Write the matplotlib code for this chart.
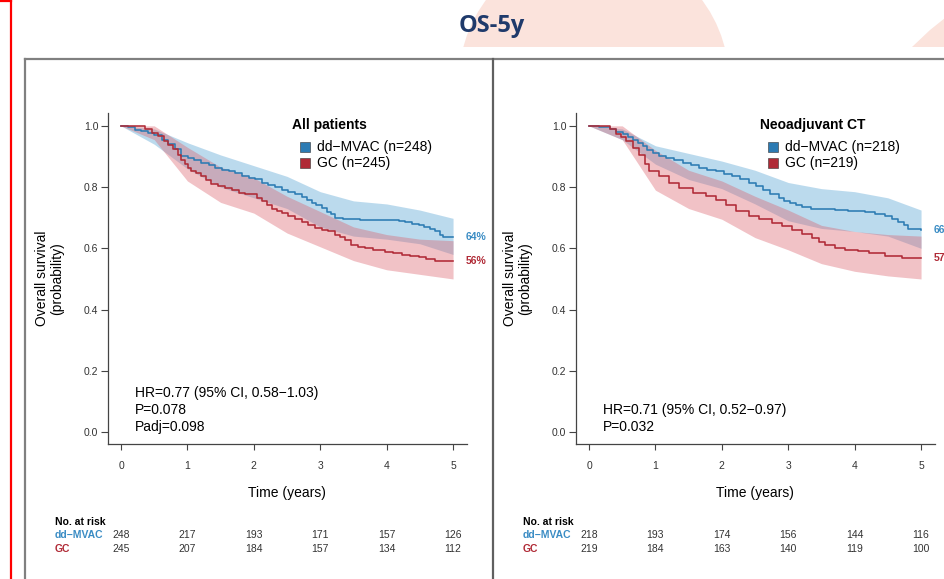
import matplotlib
matplotlib.use("Agg")
import matplotlib.pyplot as plt
from matplotlib.patches import Circle, Polygon, Rectangle

W, H = 945, 579

YEARS = [0, 1, 2, 3, 4, 5]
SURV_TICKS = [0.0, 0.2, 0.4, 0.6, 0.8, 1.0]
ARMS = ["dd\u2212MVAC", "GC"]

# ---- All patients ----
ALL_MVAC_T = [0, 0.1, 0.21, 0.3, 0.41, 0.5, 0.61, 0.7, 0.81, 0.91, 1.01, 1.1, 1.21, 1.32, 1.42, 1.52, 1.62,
              1.72, 1.82, 1.92, 2.02, 2.12, 2.22, 2.32, 2.42, 2.52, 2.62, 2.72, 2.8, 2.87, 2.94, 3.02, 3.1,
              3.16, 3.22, 3.35, 3.47, 3.6, 3.72, 3.85, 4.0, 4.18, 4.28, 4.38, 4.48, 4.56, 4.65, 4.73, 4.8,
              4.85, 5.0]
ALL_MVAC_S = [1.0, 0.995, 0.988, 0.983, 0.977, 0.97, 0.955, 0.94, 0.923, 0.90, 0.895, 0.888, 0.879, 0.871,
              0.863, 0.857, 0.852, 0.845, 0.836, 0.83, 0.825, 0.815, 0.808, 0.80, 0.792, 0.785, 0.776,
              0.768, 0.758, 0.748, 0.74, 0.733, 0.72, 0.712, 0.70, 0.697, 0.695, 0.694, 0.693, 0.692,
              0.691, 0.69, 0.686, 0.681, 0.676, 0.669, 0.662, 0.655, 0.645, 0.638, 0.638]
ALL_GC_T = [0, 0.36, 0.46, 0.56, 0.64, 0.71, 0.78, 0.86, 0.91, 0.96, 1.01, 1.06, 1.13, 1.21, 1.28, 1.36,
            1.46, 1.57, 1.67, 1.77, 1.87, 1.97, 2.05, 2.12, 2.2, 2.27, 2.35, 2.42, 2.52, 2.62, 2.72, 2.82,
            2.92, 3.02, 3.12, 3.22, 3.3, 3.38, 3.47, 3.57, 3.67, 3.8, 3.98, 4.1, 4.23, 4.35, 4.48, 4.6,
            4.73, 5.0]
ALL_GC_S = [1.0, 0.99, 0.978, 0.966, 0.952, 0.939, 0.924, 0.906, 0.89, 0.874, 0.862, 0.852, 0.845, 0.836,
            0.822, 0.809, 0.803, 0.797, 0.789, 0.781, 0.779, 0.776, 0.765, 0.754, 0.74, 0.727, 0.722,
            0.716, 0.706, 0.697, 0.687, 0.676, 0.668, 0.66, 0.655, 0.645, 0.638, 0.626, 0.611, 0.605,
            0.60, 0.595, 0.589, 0.584, 0.578, 0.574, 0.571, 0.566, 0.56, 0.56]

BAND_T = [0, 0.5, 1.0, 1.5, 2.0, 2.5, 3.0, 3.5, 4.0, 4.5, 5.0]
ALL_MVAC_LO = [1.0, 0.94, 0.86, 0.80, 0.765, 0.73, 0.67, 0.64, 0.63, 0.615, 0.58]
ALL_MVAC_HI = [1.0, 0.99, 0.945, 0.905, 0.87, 0.835, 0.785, 0.755, 0.745, 0.725, 0.698]
ALL_GC_LO = [1.0, 0.955, 0.82, 0.75, 0.715, 0.65, 0.605, 0.56, 0.53, 0.515, 0.50]
ALL_GC_HI = [1.0, 1.0, 0.93, 0.865, 0.83, 0.77, 0.72, 0.67, 0.645, 0.63, 0.625]

ALL_N = [248, 245]
ALL_RISK_MVAC = [248, 217, 193, 171, 157, 126]
ALL_RISK_GC = [245, 207, 184, 157, 134, 112]
ALL_END = ["64%", "56%"]
ALL_STATS = ["HR=0.77 (95% CI, 0.58\u22121.03)", "P=0.078", "Padj=0.098"]

# ---- Neoadjuvant CT ----
NEO_MVAC_T = [0, 0.15, 0.31, 0.41, 0.51, 0.58, 0.66, 0.74, 0.81, 0.88, 0.96, 1.06, 1.16, 1.28, 1.41, 1.53,
              1.66, 1.78, 1.91, 2.03, 2.16, 2.28, 2.41, 2.52, 2.62, 2.72, 2.86, 2.94, 3.02, 3.12, 3.21,
              3.35, 3.52, 3.71, 3.9, 4.16, 4.3, 4.46, 4.56, 4.66, 4.74, 4.81, 5.0]
NEO_MVAC_S = [1.0, 0.995, 0.989, 0.98, 0.972, 0.963, 0.955, 0.945, 0.934, 0.922, 0.912, 0.903, 0.895,
              0.887, 0.879, 0.871, 0.863, 0.857, 0.852, 0.844, 0.836, 0.825, 0.814, 0.805, 0.79, 0.778,
              0.764, 0.755, 0.747, 0.742, 0.736, 0.73, 0.727, 0.725, 0.723, 0.72, 0.712, 0.704, 0.697,
              0.687, 0.675, 0.662, 0.66]
NEO_GC_T = [0, 0.24, 0.32, 0.41, 0.48, 0.56, 0.66, 0.76, 0.84, 0.91, 1.06, 1.21, 1.36, 1.56, 1.76, 1.91,
            2.06, 2.21, 2.41, 2.56, 2.76, 2.9, 3.06, 3.2, 3.36, 3.46, 3.56, 3.7, 3.86, 4.05, 4.21, 4.46,
            4.71, 5.0]
NEO_GC_S = [1.0, 1.0, 0.99, 0.972, 0.962, 0.95, 0.928, 0.906, 0.874, 0.852, 0.836, 0.814, 0.797, 0.781,
            0.77, 0.759, 0.743, 0.721, 0.705, 0.695, 0.682, 0.672, 0.66, 0.648, 0.633, 0.622, 0.611,
            0.601, 0.595, 0.59, 0.584, 0.575, 0.567, 0.567]

NEO_MVAC_LO = [1.0, 0.955, 0.875, 0.825, 0.795, 0.745, 0.69, 0.665, 0.655, 0.64, 0.60]
NEO_MVAC_HI = [1.0, 0.99, 0.935, 0.91, 0.885, 0.855, 0.815, 0.795, 0.785, 0.765, 0.725]
NEO_GC_LO = [1.0, 0.955, 0.79, 0.73, 0.695, 0.635, 0.595, 0.55, 0.525, 0.51, 0.50]
NEO_GC_HI = [1.0, 1.0, 0.92, 0.855, 0.82, 0.77, 0.725, 0.675, 0.655, 0.645, 0.64]

NEO_N = [218, 219]
NEO_RISK_MVAC = [218, 193, 174, 156, 144, 116]
NEO_RISK_GC = [219, 184, 163, 140, 119, 100]
NEO_END = ["66%", "57%"]
NEO_STATS = ["HR=0.71 (95% CI, 0.52\u22120.97)", "P=0.032"]

BLUE_LINE = "#2c7bb3"
RED_LINE = "#b02a36"
BLUE_FILL = "#5fa8d6"
RED_FILL = "#db5f6b"
BLUE_TXT = "#3a8cc4"
RED_TXT = "#b02a36"
AXIS_C = "#444444"

plt.rcParams["font.family"] = ["Liberation Sans", "DejaVu Sans"]


def px_box(left, top, right, bottom):
    return [left / W, 1 - bottom / H, (right - left) / W, (bottom - top) / H]


def draw_panel(ax, title, curves, bands, n, risk, ends, stats):
    ax.set_xlim(-0.196, 5.21)
    ax.set_ylim(-0.039, 1.042)
    for sp in ("top", "right"):
        ax.spines[sp].set_visible(False)
    for sp in ("left", "bottom"):
        ax.spines[sp].set_color(AXIS_C)
        ax.spines[sp].set_linewidth(0.9)
    ax.set_xticks(YEARS)
    ax.set_xticklabels([str(y) for y in YEARS])
    ax.set_yticks(SURV_TICKS)
    ax.set_yticklabels([f"{v:.1f}" for v in SURV_TICKS])
    ax.tick_params(axis="y", length=5, width=0.8, color=AXIS_C, pad=2, labelsize=7.5, labelcolor="#333333")
    ax.tick_params(axis="x", length=4.5, width=0.8, color=AXIS_C, pad=7.5, labelsize=7.5, labelcolor="#333333")

    (mv_lo, mv_hi), (gc_lo, gc_hi) = bands
    ax.fill_between(BAND_T, mv_lo, mv_hi, color=BLUE_FILL, alpha=0.42, lw=0)
    ax.fill_between(BAND_T, gc_lo, gc_hi, color=RED_FILL, alpha=0.38, lw=0)
    (mv_t, mv_s), (gc_t, gc_s) = curves
    ax.step(mv_t, mv_s, where="post", color=BLUE_LINE, lw=1.15)
    ax.step(gc_t, gc_s, where="post", color=RED_LINE, lw=1.15)

    # end-of-follow-up percentages
    ax.text(5.19, mv_s[-1], ends[0], color=BLUE_TXT, fontsize=7.5, fontweight="bold", va="center", clip_on=False)
    ax.text(5.19, gc_s[-1], ends[1], color=RED_TXT, fontsize=7.5, fontweight="bold", va="center", clip_on=False)

    # legend
    ax.text(0.512, 0.964, title, transform=ax.transAxes, fontsize=10, fontweight="bold", va="center")
    for i, (arm, col) in enumerate(zip(ARMS, [BLUE_LINE, RED_LINE])):
        yy = 0.897 - i * 0.048
        ax.plot([0.549], [yy], marker="s", ms=7, mfc=col, mec="#333333", mew=0.4,
                transform=ax.transAxes, clip_on=False)
        ax.text(0.582, yy, f"{arm} (n={n[i]})", transform=ax.transAxes, fontsize=10, va="center")

    ax.text(0.21, -0.006, "\n".join(stats), fontsize=10, va="bottom", ha="left", linespacing=1.25)

    # axis labels
    ax.text(2.5, -0.148, "Time (years)", transform=ax.get_xaxis_transform(), fontsize=10,
            ha="center", va="center")
    ax.text(-0.162, 0.5, "Overall survival\n(probability)", transform=ax.transAxes, fontsize=10,
            rotation=90, ha="center", va="center", linespacing=1.1)

    # number at risk table
    tr = ax.get_xaxis_transform()
    ax.text(-0.994, -0.236, "No. at risk", transform=tr, fontsize=7.5, fontweight="bold", va="center",
            clip_on=False)
    for row, (arm, col, vals) in enumerate(zip(ARMS, [BLUE_TXT, RED_TXT], risk)):
        yy = -0.275 - row * 0.042
        ax.text(-0.994, yy, arm, transform=tr, fontsize=7.5, fontweight="bold", color=col, va="center")
        for t, v in zip(YEARS, vals):
            ax.text(t, yy, str(v), transform=tr, fontsize=7.5, color="#333333", ha="center", va="center")


fig = plt.figure(figsize=(W / 100, H / 100), dpi=100)
fig.patch.set_facecolor("white")

# slide decorations in pixel coordinates
bg = fig.add_axes([0, 0, 1, 1], zorder=0)
bg.set_xlim(0, W)
bg.set_ylim(H, 0)
bg.axis("off")
clip = Rectangle((0, 0), W, 47, transform=bg.transData)
for patch in (Circle((594, 81), 135), Polygon([(912, 47), (945, 47), (945, 18), (930, 30)])):
    patch.set_facecolor("#fbe3dc")
    patch.set_edgecolor("none")
    bg.add_patch(patch)
    patch.set_clip_path(clip)
bg.plot([11, 11], [0, H], color="#ff0000", lw=1.6)
bg.plot([0, 11], [1, 1], color="#ff0000", lw=1.6)
bg.plot([25, W], [58.5, 58.5], color="#808080", lw=1.6)
bg.plot([25, 25], [58.5, H], color="#808080", lw=1.6)
bg.plot([493, 493], [58.5, H], color="#606060", lw=1.6)
bg.text(492, 26, "OS-5y", fontsize=17, fontweight="bold", color="#1f3a6b", ha="center", va="center",
        family=["Open Sans", "DejaVu Sans"])

ax1 = fig.add_axes(px_box(108, 113, 467, 444), zorder=2)
ax1.patch.set_alpha(0)
draw_panel(ax1, "All patients",
           [(ALL_MVAC_T, ALL_MVAC_S), (ALL_GC_T, ALL_GC_S)],
           [(ALL_MVAC_LO, ALL_MVAC_HI), (ALL_GC_LO, ALL_GC_HI)],
           ALL_N, [ALL_RISK_MVAC, ALL_RISK_GC], ALL_END, ALL_STATS)

ax2 = fig.add_axes(px_box(576, 113, 935, 444), zorder=2)
ax2.patch.set_alpha(0)
draw_panel(ax2, "Neoadjuvant CT",
           [(NEO_MVAC_T, NEO_MVAC_S), (NEO_GC_T, NEO_GC_S)],
           [(NEO_MVAC_LO, NEO_MVAC_HI), (NEO_GC_LO, NEO_GC_HI)],
           NEO_N, [NEO_RISK_MVAC, NEO_RISK_GC], NEO_END, NEO_STATS)

fig.savefig("out.png", dpi=100)
